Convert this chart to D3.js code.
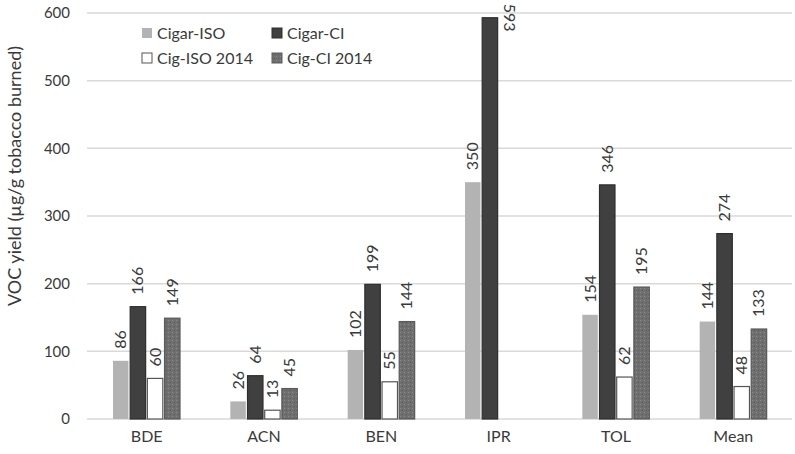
<!DOCTYPE html>
<html>
<head>
<meta charset="utf-8">
<script src="https://cdn.jsdelivr.net/npm/d3@7"></script>
<style>
  body { margin: 0; background: #fff; }
  text { font-family: Lato, "Open Sans", sans-serif; fill: #3a3a3a; }
</style>
</head>
<body>
<svg width="795" height="454"></svg>
<script>
// data
var categories = ['BDE', 'ACN', 'BEN', 'IPR', 'TOL', 'Mean'];
var seriesNames = ['Cigar-ISO', 'Cigar-CI', 'Cig-ISO 2014', 'Cig-CI 2014'];
var cigarISO = [86, 26, 102, 350, 154, 144];
var cigarCI = [166, 64, 199, 593, 346, 274];
var cigISO2014 = [60, 13, 55, null, 62, 48];
var cigCI2014 = [149, 45, 144, null, 195, 133];
var yTicks = [0, 100, 200, 300, 400, 500, 600];

var seriesValues = [cigarISO, cigarCI, cigISO2014, cigCI2014];
var fills = ['#b3b3b3', '#404040', '#ffffff', 'url(#tex)'];
var strokes = ['none', '#2e2e2e', '#555555', '#5a5a5a'];

var svg = d3.select('svg');

// texture for Cig-CI 2014
var pat = svg.append('defs').append('pattern')
  .attr('id', 'tex')
  .attr('width', 4).attr('height', 4)
  .attr('patternUnits', 'userSpaceOnUse');
pat.append('rect').attr('width', 4).attr('height', 4).attr('fill', '#6f6f6f');
pat.append('rect').attr('x', 0).attr('y', 0).attr('width', 1).attr('height', 1).attr('fill', '#8a8a8a');
pat.append('rect').attr('x', 2).attr('y', 2).attr('width', 1).attr('height', 1).attr('fill', '#585858');

var x = d3.scaleBand().domain(categories).range([88, 792]);
var y = d3.scaleLinear().domain([0, 600]).range([419, 13]);
var xInner = d3.scaleBand().domain(d3.range(4)).range([25, 92]).paddingInner(0.1);

// gridlines
svg.append('g')
  .selectAll('line')
  .data(yTicks)
  .enter()
  .append('line')
  .attr('x1', 87).attr('x2', 792)
  .attr('y1', function(d) { return y(d); })
  .attr('y2', function(d) { return y(d); })
  .style('stroke', '#d9d9d9')
  .style('stroke-width', 1.5);

// y axis labels
var yAxis = svg.append('g')
  .attr('transform', 'translate(70,0)')
  .call(d3.axisLeft(y).tickValues(yTicks).tickSize(0).tickPadding(0));
yAxis.select('.domain').remove();
yAxis.selectAll('text').style('font-size', '15px').style('font-family', 'Lato').attr('fill', '#333');

// x axis labels
var xAxis = svg.append('g')
  .attr('transform', 'translate(0,419)')
  .call(d3.axisBottom(x).tickSize(0).tickPadding(12));
xAxis.select('.domain').remove();
xAxis.selectAll('text').style('font-size', '16px').style('font-family', 'Lato').attr('fill', '#333');

// y title
svg.append('text')
  .attr('transform', 'translate(21,176) rotate(-90)')
  .attr('text-anchor', 'middle')
  .style('font-size', '18px')
  .text('VOC yield (\u00b5g/g tobacco burned)');

// bars
seriesValues.forEach(function(vals, s) {
  var pts = categories.map(function(c, i) { return { cat: c, v: vals[i] }; })
    .filter(function(d) { return d.v != null; });

  svg.append('g')
    .selectAll('rect')
    .data(pts)
    .enter()
    .append('rect')
    .attr('x', function(d) { return x(d.cat) + xInner(s); })
    .attr('y', function(d) { return y(d.v); })
    .attr('width', xInner.bandwidth())
    .attr('height', function(d) { return y(0) - y(d.v); })
    .attr('fill', fills[s])
    .attr('stroke', strokes[s])
    .attr('stroke-width', 1.2);

  svg.append('g')
    .selectAll('text')
    .data(pts)
    .enter()
    .append('text')
    .attr('transform', function(d) {
      var cx = x(d.cat) + xInner(s) + xInner.bandwidth() / 2;
      if (d.v > 560) {
        // label does not fit above, put it beside the bar
        return 'translate(' + (cx + 14) + ',' + (y(d.v) - 14) + ') rotate(90)';
      }
      return 'translate(' + (cx + 5.5) + ',' + (y(d.v) - 12) + ') rotate(-90)';
    })
    .style('font-size', '16px')
    .text(function(d) { return d.v; });
});

// legend
var legend = svg.append('g');
var legPos = [[142, 33], [272, 33], [142, 58], [272, 58]];
seriesNames.forEach(function(name, s) {
  legend.append('rect')
    .attr('x', legPos[s][0]).attr('y', legPos[s][1] - 5)
    .attr('width', 10).attr('height', 10)
    .attr('fill', fills[s])
    .attr('stroke', s == 2 ? '#555' : (s == 0 ? 'none' : strokes[s]));
  legend.append('text')
    .attr('x', legPos[s][0] + 15).attr('y', legPos[s][1] + 6)
    .style('font-size', '16px')
    .text(name);
});
</script>
</body>
</html>
